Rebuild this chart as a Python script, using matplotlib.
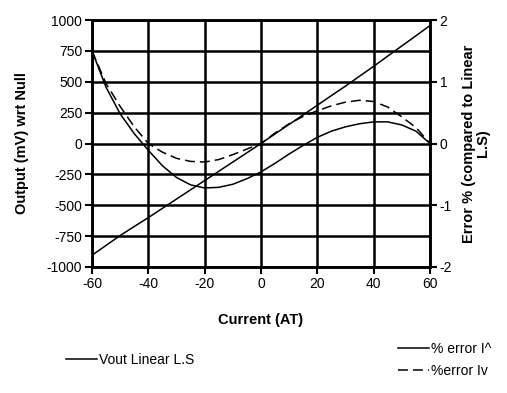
import matplotlib
matplotlib.use("Agg")
import matplotlib.pyplot as plt

plt.rcParams['font.family'] = ['Liberation Sans', 'DejaVu Sans']
plt.rcParams['axes.unicode_minus'] = False

current = [-60, -55, -50, -45, -40, -35, -30, -25, -20, -15, -10, -5, 0,
           5, 10, 15, 20, 25, 30, 35, 40, 45, 50, 55, 60]
vout_linear = [-905, -825, -745, -672, -600, -525, -450, -375, -300, -225, -150, -75, 0,
               78, 155, 232, 310, 388, 465, 545, 625, 708, 790, 872, 955]
err_i_up = [1.50, 0.91, 0.48, 0.16, -0.11, -0.36, -0.55, -0.67, -0.72, -0.71, -0.66, -0.57, -0.46,
            -0.32, -0.17, -0.03, 0.10, 0.20, 0.27, 0.32, 0.35, 0.35, 0.30, 0.20, 0.00]
err_i_down = [1.50, 0.97, 0.60, 0.27, 0.00, -0.14, -0.24, -0.29, -0.30, -0.26, -0.18, -0.09, 0.00,
              0.17, 0.32, 0.44, 0.53, 0.61, 0.67, 0.70, 0.68, 0.59, 0.43, 0.26, 0.00]

x_ticks = [-60, -40, -20, 0, 20, 40, 60]
left_ticks = [-1000, -750, -500, -250, 0, 250, 500, 750, 1000]
right_ticks = [-2, -1, 0, 1, 2]

fig = plt.figure(figsize=(5.07, 3.93), dpi=100)
ax = fig.add_axes([92/507, 1-267/393, 338/507, 247/393])
ax2 = ax.twinx()

ax.plot(current, vout_linear, color='black', lw=1.1, label='Vout Linear L.S')
l1, = ax2.plot(current, err_i_up, color='black', lw=1.1, label='% error I^')
l2, = ax2.plot(current, err_i_down, color='black', lw=1.1, ls=(0, (6.5, 3.3)), label='%error Iv')

ax.set_xlim(-60, 60)
ax.set_ylim(-1000, 1000)
ax2.set_ylim(-2, 2)
ax.set_xticks(x_ticks)
ax.set_yticks(left_ticks)
ax2.set_yticks(right_ticks)
ax.grid(True, color='black', lw=1.8)
ax.set_axisbelow(True)

for a in (ax, ax2):
    a.tick_params(direction='out', length=5, width=1.5, labelsize=10, pad=2)
    for s in a.spines.values():
        s.set_linewidth(1.8)

ax.set_xlabel('Current (AT)', fontsize=10.5, fontweight='bold', labelpad=16)
ax.set_ylabel('Output (mV) wrt Null', fontsize=10.5, fontweight='bold', labelpad=13)
ax2.set_ylabel('Error % (compared to Linear\nL.S)', fontsize=10.5, fontweight='bold',
               labelpad=7, linespacing=1.0)

leg1 = fig.legend(handles=[ax.lines[0]], loc='center left', bbox_to_anchor=(53/507, 1-360/393),
                  frameon=False, fontsize=10, handlelength=2.3, handletextpad=0.1)
leg2 = fig.legend(handles=[l1, l2], loc='center left', bbox_to_anchor=(385/507, 1-360/393),
                  frameon=False, fontsize=10, handlelength=2.3, handletextpad=0.1,
                  labelspacing=0.6)

fig.savefig('out.png', dpi=100)
